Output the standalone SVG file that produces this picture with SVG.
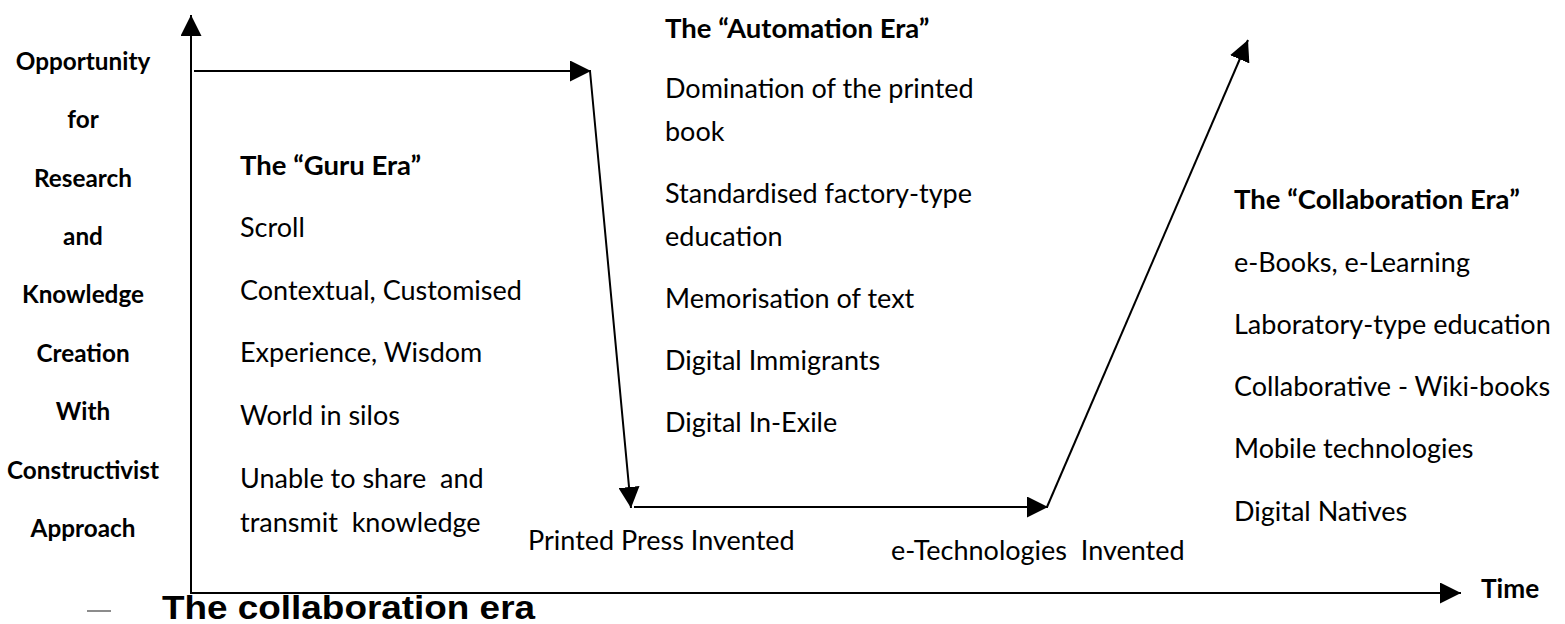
<svg xmlns="http://www.w3.org/2000/svg" width="1565" height="624" viewBox="0 0 1565 624">
<style>
  .lbl { font-family: Lato, "Liberation Sans", sans-serif; font-weight: bold; font-size: 24.3px; fill: #000; text-anchor: middle; }
  .hd { font-family: Lato, "Liberation Sans", sans-serif; font-weight: bold; font-size: 27.5px; fill: #000; }
  .tx { font-family: Lato, "Liberation Sans", sans-serif; font-size: 27px; fill: #000; }
  .tm { font-family: Lato, "Liberation Sans", sans-serif; font-weight: bold; font-size: 26.2px; fill: #000; }
  .ln { stroke: #000; stroke-width: 2; fill: none; }
  .title { font-family: "Liberation Sans", Arial, sans-serif; font-weight: bold; font-size: 34px; fill: #000; }
</style>
<defs>
  <marker id="ah" markerUnits="userSpaceOnUse" markerWidth="21" markerHeight="21" refX="21" refY="10.5" orient="auto" viewBox="0 0 21 21">
    <path d="M0,0 L21,10.5 L0,21 z" fill="#000"/>
  </marker>
</defs>
<rect width="1565" height="624" fill="#fff"/>

<g id="connectors">
  <line class="ln" x1="191" y1="593" x2="191" y2="15" marker-end="url(#ah)"/>
  <line class="ln" x1="190" y1="593" x2="1461" y2="593" marker-end="url(#ah)"/>
  <line class="ln" x1="194" y1="71" x2="591" y2="71" marker-end="url(#ah)"/>
  <line class="ln" x1="590" y1="71" x2="631" y2="508" marker-end="url(#ah)"/>
  <line class="ln" x1="634" y1="507" x2="1048" y2="507" marker-end="url(#ah)"/>
  <line class="ln" x1="1047" y1="507" x2="1248" y2="40" marker-end="url(#ah)"/>
</g>

<g id="y-axis-label">
  <text class="lbl" x="83" y="70">Opportunity</text>
  <text class="lbl" x="83" y="128">for</text>
  <text class="lbl" x="83" y="187">Research</text>
  <text class="lbl" x="83" y="245">and</text>
  <text class="lbl" x="83" y="303">Knowledge</text>
  <text class="lbl" x="83" y="362">Creation</text>
  <text class="lbl" x="83" y="420">With</text>
  <text class="lbl" x="83" y="479">Constructivist</text>
  <text class="lbl" x="83" y="537">Approach</text>
</g>

<g id="guru-era">
  <text class="hd" x="240" y="175">The “Guru Era”</text>
  <text class="tx" x="240" y="237">Scroll</text>
  <text class="tx" x="240" y="300">Contextual, Customised</text>
  <text class="tx" x="240" y="362">Experience, Wisdom</text>
  <text class="tx" x="240" y="425">World in silos</text>
  <text class="tx" x="240" y="488" xml:space="preserve">Unable to share  and</text>
  <text class="tx" x="240" y="532" xml:space="preserve">transmit  knowledge</text>
</g>

<g id="automation-era">
  <text class="hd" x="665" y="38">The “Automation Era”</text>
  <text class="tx" x="665" y="98">Domination of the printed</text>
  <text class="tx" x="665" y="141">book</text>
  <text class="tx" x="665" y="203">Standardised factory-type</text>
  <text class="tx" x="665" y="246">education</text>
  <text class="tx" x="665" y="308">Memorisation of text</text>
  <text class="tx" x="665" y="370">Digital Immigrants</text>
  <text class="tx" x="665" y="432">Digital In-Exile</text>
</g>

<g id="collaboration-era">
  <text class="hd" x="1234" y="209">The “Collaboration Era”</text>
  <text class="tx" x="1234" y="272">e-Books, e-Learning</text>
  <text class="tx" x="1234" y="334">Laboratory-type education</text>
  <text class="tx" x="1234" y="396">Collaborative - Wiki-books</text>
  <text class="tx" x="1234" y="458">Mobile technologies</text>
  <text class="tx" x="1234" y="521">Digital Natives</text>
</g>

<g id="events">
  <text class="tx" x="528" y="550">Printed Press Invented</text>
  <text class="tx" x="891" y="560" xml:space="preserve">e-Technologies  Invented</text>
  <text class="tm" x="1481" y="598">Time</text>
</g>

<g id="caption">
  <line x1="87" y1="611" x2="111" y2="611" stroke="#8c8c8c" stroke-width="2"/>
  <text class="title" x="162" y="619" textLength="373" lengthAdjust="spacingAndGlyphs">The collaboration era</text>
</g>
</svg>
